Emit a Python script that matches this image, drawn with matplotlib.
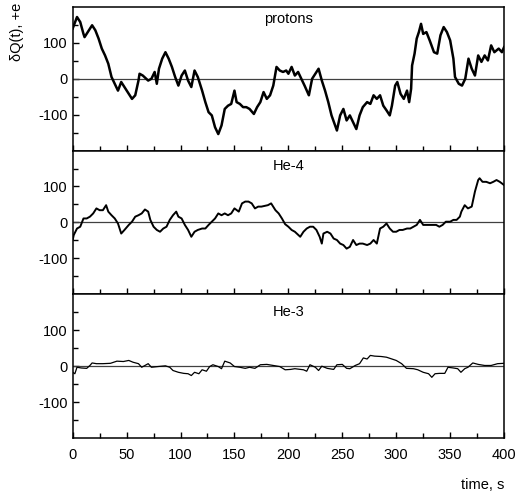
import matplotlib.pyplot as plt
import numpy as np
import matplotlib.ticker as ticker

plt.rcParams['font.family'] = ['Liberation Sans', 'DejaVu Sans']
plt.rcParams['axes.unicode_minus'] = False

# protons
t_p = [0, 4, 7, 10, 11, 14, 18, 21, 24, 27, 30, 33, 36, 39, 42, 45, 48, 52, 55, 58,
       61, 62, 65, 70, 73, 76, 78, 80, 83, 86, 89, 92, 95, 98, 101, 104, 107, 110, 113, 116,
       120, 123, 126, 129, 132, 135, 138, 141, 144, 147, 150, 152, 155, 158, 161, 164, 168, 171, 174, 177,
       180, 183, 186, 189, 192, 195, 198, 200, 203, 206, 209, 212, 215, 219, 222, 225, 228, 231, 234, 237,
       240, 245, 248, 251, 254, 257, 260, 263, 266, 269, 273, 276, 279, 282, 285, 288, 291, 294, 296, 299,
       301, 304, 307, 310, 312, 313.8, 314.7, 317, 319, 321, 323, 325, 328, 331, 335, 338, 341, 344, 347, 350,
       353, 354.5, 358, 361, 364, 367, 370, 373, 376, 379, 382, 385, 388, 391, 395, 398, 400]
q_p = [140, 172, 158, 125, 116, 130, 149, 135, 112, 84, 65, 42, 5, -14, -33, -9, -23, -42, -56, -46,
       -5, 14, 9, -5, 0, 19, -14, 28, 56, 74, 56, 33, 5, -19, 9, 23, -5, -23, 23, 5,
       -33, -65, -93, -102, -135, -154, -130, -84, -75, -70, -33, -65, -70, -79, -79, -84, -98, -79, -65, -37,
       -56, -46, -19, 33, 23, 19, 23, 14, 33, 9, 19, 0, -19, -46, 0, 14, 28, -5, -33, -65,
       -102, -144, -102, -84, -116, -102, -121, -140, -102, -79, -65, -70, -46, -56, -46, -75, -88, -102, -75, -19,
       -9, -42, -56, -33, -65, -28, 37, 70, 112, 130, 153, 125, 130, 107, 74, 70, 121, 144, 130, 107,
       56, 5, -14, -19, 0, 56, 28, 9, 65, 47, 65, 51, 93, 74, 84, 74, 88]

# He-4
t_a = [0, 1, 4, 7, 10, 13, 16, 19, 22, 25, 28, 31, 33, 36, 39, 42, 45, 48, 52, 55,
       58, 61, 64, 67, 70, 72, 75, 78, 81, 84, 87, 90, 93, 96, 98, 101, 104, 107, 110, 113,
       116, 120, 123, 126, 129, 132, 135, 138, 141, 144, 147, 150, 154, 157, 160, 163, 166, 169, 172, 175,
       178, 181, 184, 188, 191, 194, 197, 200, 203, 206, 211, 214, 217, 220, 223, 226, 229, 231, 232.5, 236,
       239, 242, 245, 248, 251, 254, 257, 260, 263, 266, 269, 273, 276, 279, 282, 285, 288, 291, 294, 297,
       300, 303, 306, 310, 313, 316, 319, 322, 325, 328, 331, 334, 337, 340, 343, 346, 350, 353, 356, 359,
       360.4, 363.5, 366.5, 370, 373, 376, 377.3, 380, 383.5, 387, 390, 393, 396, 400]
q_a = [-49, -35, -17, -12, 11, 11, 16, 25, 39, 34, 34, 48, 30, 20, 11, -3, -31, -21, -7, 2,
       16, 20, 25, 36, 30, 7, -12, -21, -26, -17, -12, 7, 20, 30, 16, 11, -7, -21, -40, -26,
       -21, -17, -17, -7, 2, 11, 25, 20, 25, 20, 25, 39, 30, 53, 58, 58, 53, 39, 44, 44,
       46, 48, 53, 34, 25, 11, -5, -12, -21, -26, -40, -26, -17, -12, -12, -21, -40, -59, -31, -26,
       -31, -45, -49, -59, -63, -73, -68, -49, -63, -59, -59, -63, -59, -49, -59, -17, -12, -3, -17, -26,
       -26, -21, -21, -17, -17, -12, -7, 7, -7, -7, -7, -7, -7, -12, -7, 2, 2, 7, 7, 16,
       30, 48, 39, 44, 86, 118, 123, 113, 113, 109, 113, 118, 113, 104]

# He-3
t_h = [0, 2, 4, 8, 13, 16, 18, 22, 28, 35, 41, 47, 52, 56, 61, 64, 70, 73, 79, 86,
       90, 93, 98, 103, 107, 110, 113, 117, 120, 124, 127, 130, 135, 138, 141, 146, 150, 155, 160, 164,
       169, 174, 180, 186, 192, 197, 202, 206, 214, 217, 220, 225, 228, 231, 236, 242, 245, 250, 254, 257,
       262, 266, 269.5, 273, 276, 280, 286, 291, 296, 300, 305, 309.5, 316, 320, 325, 330, 333, 336, 340, 345,
       348, 353, 357, 360, 363.5, 366.5, 371, 376, 382, 388, 394, 400]
q_h = [-17, -21, -3, -5, -6, 2, 9, 7, 7, 8, 14, 13, 16, 11, 7, -3, 7, -3, -1, 1,
       -3, -12, -17, -20, -21, -26, -17, -21, -10, -14, -1, 4, -1, -7, 14, 9, -1, -3, -6, -3,
       -6, 4, 5, 2, -1, -10, -9, -7, -10, -14, 4, -3, -12, 0, -6, -9, 4, 5, -6, -7,
       2, 7, 23, 20, 30, 28, 27, 25, 20, 16, 7, -6, -7, -10, -17, -21, -31, -21, -20, -20,
       -3, -5, -7, -17, -7, -3, 9, 5, 2, 2, 7, 8]

series = [(t_p, q_p, 'protons', 1.8, 0.917), (t_a, q_a, 'He-4', 1.4, 0.89), (t_h, q_h, 'He-3', 0.9, 0.877)]

fig = plt.figure(figsize=(5.17, 4.97), dpi=100)
left, width = 0.1406, 0.8344
bottoms = [0.697, 0.408, 0.1187]
h = 0.289

for i, (t, q, name, lw, ly) in enumerate(series):
    ax = fig.add_axes([left, bottoms[i], width, h])
    ax.axhline(0, color='0.25', lw=0.9)
    ax.plot(t, q, color='black', lw=lw)
    ax.set_xlim(0, 400)
    ax.set_ylim(-200, 200)
    ax.yaxis.set_major_locator(ticker.FixedLocator([-100, 0, 100]))
    ax.yaxis.set_minor_locator(ticker.FixedLocator([-150, -50, 50, 150]))
    ax.xaxis.set_major_locator(ticker.MultipleLocator(50))
    ax.xaxis.set_minor_locator(ticker.MultipleLocator(25))
    ax.tick_params(which='both', direction='in', labelsize=10.5, top=False, right=False)
    ax.tick_params(which='major', length=4.5, width=1)
    ax.tick_params(which='minor', length=3.5, width=1)
    ax.tick_params(axis='x', pad=7)
    for s in ax.spines.values():
        s.set_linewidth(1.1)
    ax.text(0.5, ly, name, transform=ax.transAxes, ha='center', va='center', fontsize=10.5)
    if i < 2:
        ax.tick_params(labelbottom=False)

fig.text(0.033, 0.994, 'δQ(t), +e', rotation=90, ha='center', va='top', fontsize=10.5)
fig.text(0.975, 0.024, 'time, s', ha='right', va='center', fontsize=10.5)

plt.savefig('out.png')
